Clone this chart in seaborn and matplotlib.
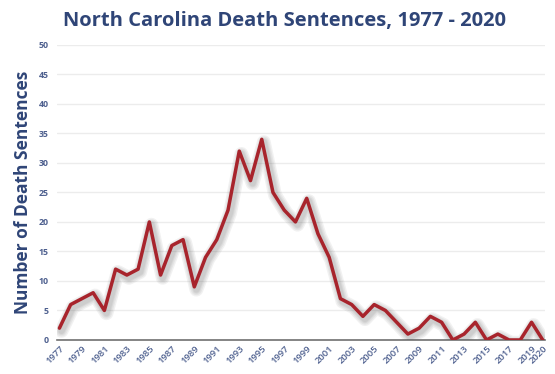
import matplotlib
matplotlib.use("Agg")
import matplotlib.pyplot as plt
import matplotlib.patheffects as pe
import seaborn as sns
import pandas as pd

years = list(range(1977, 2021))
sentences = [2, 6, 7, 8, 5, 12, 11, 12, 20, 11, 16, 17, 9, 14, 17, 22,
             32, 27, 34, 25, 22, 20, 24, 18, 14, 7, 6, 4, 6, 5, 3, 1,
             2, 4, 3, 0, 1, 3, 0, 1, 0, 0, 3, 0]
tick_years = list(range(1977, 2020, 2)) + [2020]
y_ticks = list(range(0, 51, 5))

df = pd.DataFrame({"year": years, "sentences": sentences})

sns.set_style("white")
plt.rcParams["font.family"] = ["Open Sans", "DejaVu Sans"]

navy = "#2f4577"
tick_blue = "#4d5f8e"
line_red = "#a8242c"

fig = plt.figure(figsize=(5.55, 3.74), dpi=100)
ax = fig.add_axes([0.103, 0.091, 0.879, 0.789])

# soft drop shadow under the line, built from several widening translucent strokes
shadow = [pe.SimpleLineShadow(offset=(1.5, -2.0), shadow_color="#555555",
                              alpha=0.08, linewidth=w) for w in (10, 8, 6, 4.5)]
sns.lineplot(data=df, x="year", y="sentences", ax=ax, color=line_red,
             linewidth=2.5, zorder=3,
             path_effects=shadow + [pe.Normal()])

ax.set_xlim(1976.8, 2020.2)
ax.set_ylim(0, 50)
ax.set_yticks(y_ticks)
ax.set_xticks(tick_years)
ax.set_xticklabels([str(y) for y in tick_years], rotation=45, ha="right",
                   rotation_mode="anchor", fontsize=6.8, color=tick_blue,
                   fontweight="semibold")
ax.set_yticklabels([str(v) for v in y_ticks], fontsize=6.3, color=tick_blue,
                   fontweight="bold")
ax.tick_params(axis="both", length=0, pad=6)
ax.tick_params(axis="x", pad=3)

ax.grid(axis="y", color="#ececec", linewidth=1.0)
ax.grid(axis="x", visible=False)
for side in ("top", "right", "left"):
    ax.spines[side].set_visible(False)
ax.spines["bottom"].set_color("#707070")
ax.spines["bottom"].set_linewidth(1.2)

ax.set_xlabel("")
ax.set_ylabel("Number of Death Sentences", fontsize=12.5, color=navy,
              fontweight="bold", labelpad=5)

fig.text(0.512, 0.945, "North Carolina Death Sentences, 1977 - 2020",
         ha="center", va="center", fontsize=14.5, color=navy,
         fontweight="bold")

fig.savefig("out.png", dpi=100)
